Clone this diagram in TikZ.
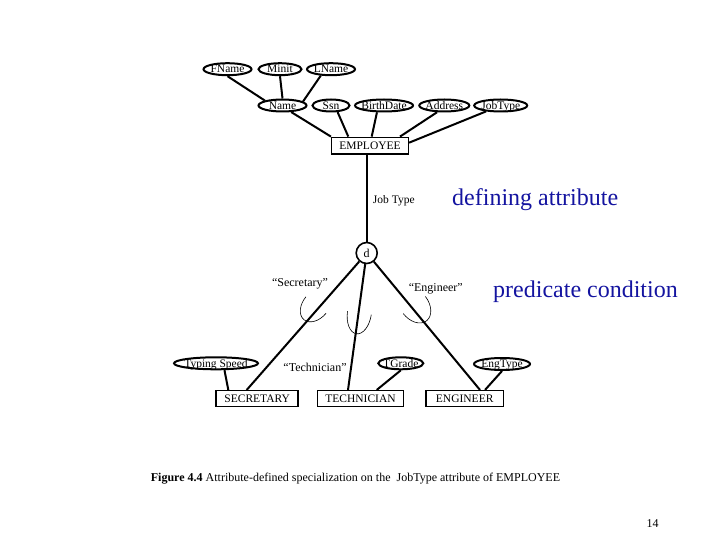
\documentclass[tikz,border=0pt]{standalone}
\usepackage{fontspec}
\setmainfont{Liberation Serif}
\usetikzlibrary{shapes.geometric,calc}
\definecolor{labelblue}{RGB}{20,20,160}
\begin{document}
\begin{tikzpicture}[x=1pt,y=1pt,
  attr/.style={draw,ellipse,line width=2pt,inner xsep=-3pt,inner ysep=0pt,
    text height=7.6pt,text depth=0pt,minimum height=12pt,font=\fontsize{11.5}{12}\selectfont},
  ent/.style={draw,rectangle,line width=1.5pt,inner sep=0pt,minimum height=16pt,
    font=\fontsize{11.5}{12}\selectfont},
  disc/.style={draw,circle,line width=1.6pt,inner sep=0pt,minimum size=21pt,
    font=\fontsize{12}{12}\selectfont},
  link/.style={line width=2pt},
  cup/.style={line width=0.6pt},
  lbl/.style={font=\fontsize{11.5}{12}\selectfont,inner sep=0pt},
  qlbl/.style={font=\fontsize{12}{12}\selectfont,inner sep=0pt},
  big/.style={font=\fontsize{24}{26}\selectfont,text=labelblue,inner sep=0pt}]
\useasboundingbox (0,0) rectangle (720,-540);

% top attributes
\node[attr,minimum width=48pt] (fname) at (227.5,-69.2) {FName};
\node[attr,minimum width=43pt] (minit) at (280,-69.2) {Minit};
\node[attr,minimum width=48pt] (lname) at (331,-69.2) {LName};
\node[attr,minimum width=48pt] (name) at (282.5,-105.5) {Name};
\node[attr,minimum width=37pt] (ssn) at (331,-105.5) {Ssn};
\node[attr,minimum width=58pt] (bdate) at (384,-105.5) {BirthDate};
\node[attr,minimum width=50pt] (addr) at (444.3,-105.5) {Address};
\node[attr,minimum width=53pt] (jtype) at (500.7,-105.5) {JobType};

\node[ent,minimum width=76.6pt,minimum height=16.7pt] (emp) at (370,-145.7) {EMPLOYEE};

\draw[link] (fname.south) -- (name.north west);
\draw[link] (minit.south) -- (name.north);
\draw[link] (lname.212) -- (name.11);
\draw[link] (name.323) -- (emp.north west);
\draw[link] (ssn.315) -- ([xshift=-21.7pt]emp.north);
\draw[link] (bdate.224) -- ([xshift=1.7pt]emp.north);
\draw[link] (addr.223) -- ([xshift=30pt]emp.north);
\draw[link] (jtype.202) -- ([yshift=3pt]emp.east);

% specialization circle
\node[disc] (d) at (366.7,-253) {d};
\draw[link] (d) -- (d |- emp.south);

\node[lbl] (jtlabel) at (393.8,-201) {Job Type};
\node[big,anchor=base west] (defattr) at (452,-206) {defining attribute};
\node[big,anchor=base west] (predcond) at (493,-297.3) {predicate condition};

% subclasses
\node[ent,minimum width=82pt] (sec) at (257.2,-398.7) {SECRETARY};
\node[ent,minimum width=85.6pt] (tech) at (360.5,-398.7) {TECHNICIAN};
\node[ent,minimum width=77.3pt] (eng) at (464.7,-398.7) {ENGINEER};

\node[attr,minimum width=84pt] (ts) at (216,-363.3) {Typing Speed};
\node[attr,minimum width=45pt] (tg) at (400.8,-363.3) {TGrade};
\node[attr,minimum width=56pt] (et) at (502,-364) {EngType};

\draw[link] (d) -- ([xshift=-10.5pt]sec.north);
\draw[link] (d) -- ([xshift=-12.5pt]tech.north);
\draw[link] (d) -- ([xshift=15.3pt]eng.north);

\draw[link] (ts.321) -- ([xshift=-28.9pt]sec.north);
\draw[link] (tg.south) -- ([xshift=16.2pt]tech.north);
\draw[link] (et.south) -- ([xshift=20.3pt]eng.north);

% subset cups
\begin{scope}[shift={(316,-305)},rotate=50.6]
  \draw[cup] (0,13) arc[start angle=90,end angle=270,x radius=19,y radius=13];
\end{scope}
\begin{scope}[shift={(359.4,-313)},rotate=81.7]
  \draw[cup] (0,12) arc[start angle=90,end angle=270,x radius=21,y radius=12];
\end{scope}
\begin{scope}[shift={(414.3,-305)},rotate=127.7]
  \draw[cup] (0,14) arc[start angle=90,end angle=270,x radius=20,y radius=14];
\end{scope}

% predicate labels
\node[qlbl] (secq) at (300,-284) {“Secretary”};
\node[qlbl] (engq) at (435.8,-289) {“Engineer”};
\node[qlbl] (techq) at (315,-367) {“Technician”};

% caption and page number
\node[anchor=base west,inner sep=0pt,font=\fontsize{12}{12}\selectfont] (caption) at (150.7,-481)
  {\textbf{Figure 4.4} Attribute-defined specialization on the\ \ JobType attribute of EMPLOYEE};
\node[anchor=base,inner sep=0pt,font=\fontsize{12}{12}\selectfont] (pagenum) at (652.5,-527) {14};
\end{tikzpicture}
\end{document}
